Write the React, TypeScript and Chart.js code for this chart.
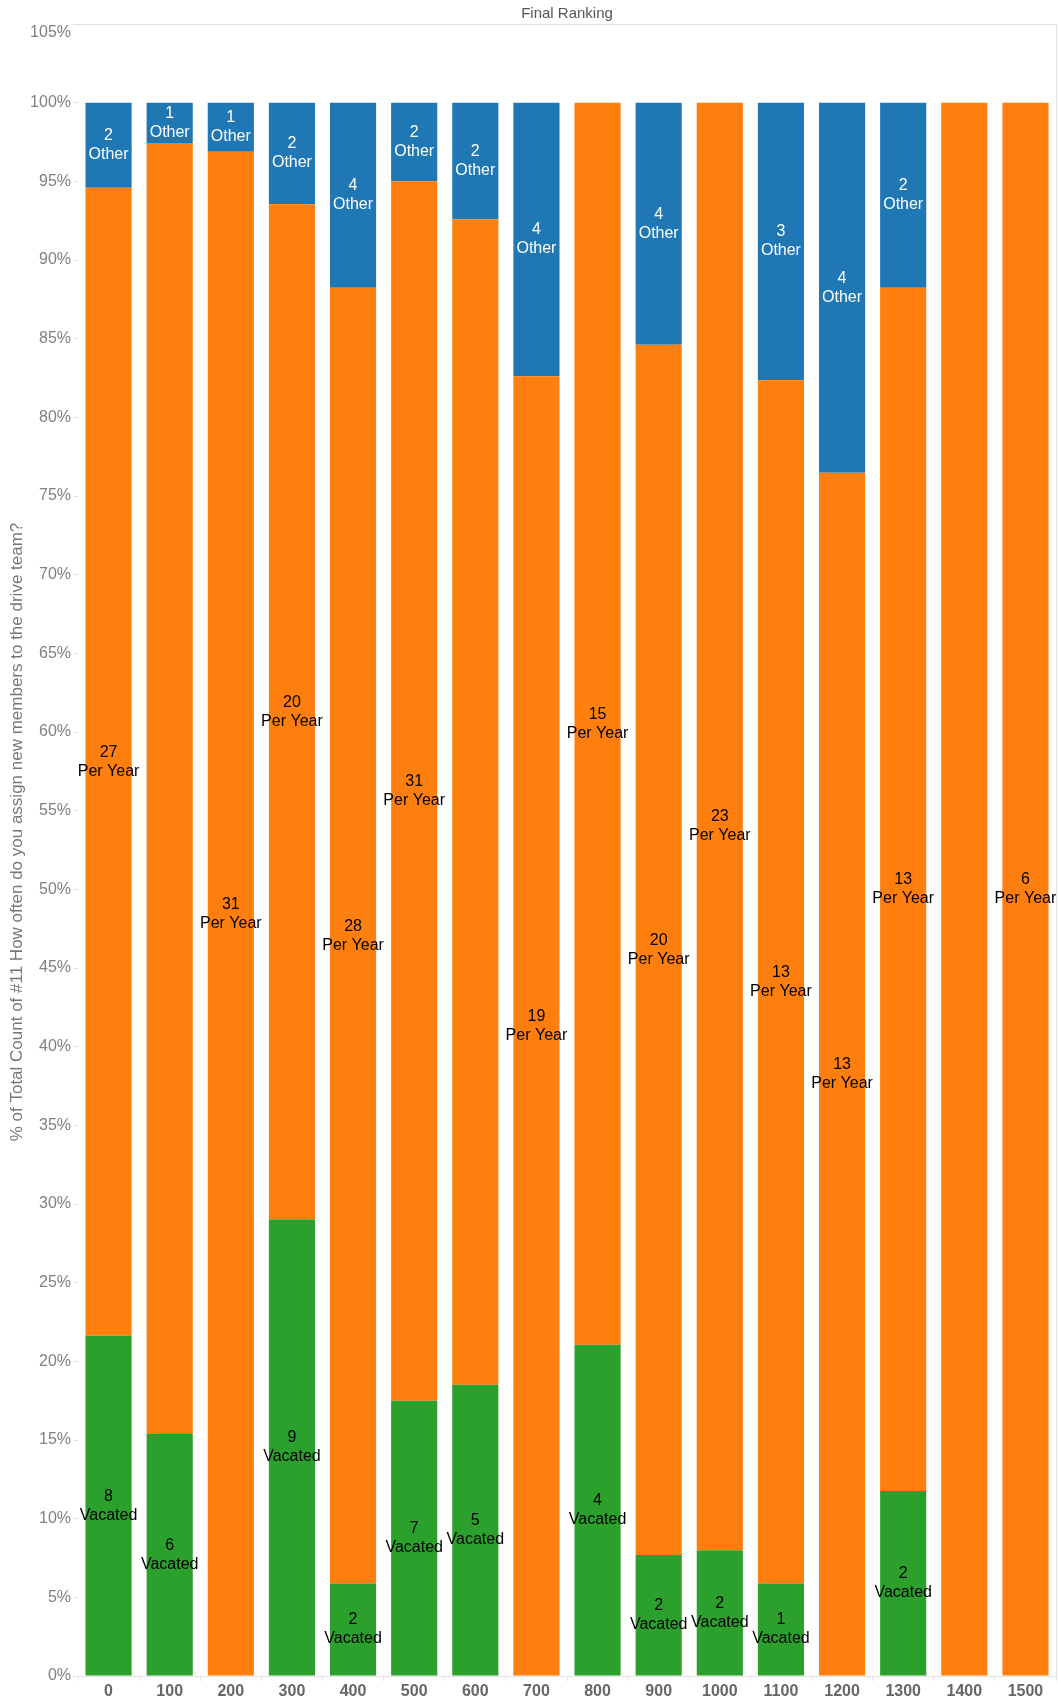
import React, { useEffect, useRef } from "react";
import { Chart, registerables } from "chart.js";

Chart.register(...registerables);

const categories = ["0", "100", "200", "300", "400", "500", "600", "700", "800", "900", "1000", "1100", "1200", "1300", "1400", "1500"];
const vacatedCounts = [8, 6, 0, 9, 2, 7, 5, 0, 4, 2, 2, 1, 0, 2, 0, 0];
const perYearCounts = [27, 32, 31, 20, 28, 31, 20, 19, 15, 20, 23, 13, 13, 13, 6, 6];
const otherCounts = [2, 1, 1, 2, 4, 2, 2, 4, 0, 4, 0, 3, 4, 2, 0, 0];
// labels that the reference hides (overlap) for Per Year
const perYearLabelShown = [true, false, true, true, true, true, false, true, true, true, true, true, true, true, false, true];
const yTicks = [0, 5, 10, 15, 20, 25, 30, 35, 40, 45, 50, 55, 60, 65, 70, 75, 80, 85, 90, 95, 100, 105];

const FONT = "'Liberation Sans', Arial, sans-serif";

export default function App() {
  const ref = useRef<HTMLCanvasElement | null>(null);
  useEffect(() => {
    const totals = categories.map((_, i) => vacatedCounts[i] + perYearCounts[i] + otherCounts[i]);
    const pct = (arr: number[]) => arr.map((v, i) => (v / totals[i]) * 100);
    const seriesCounts = [vacatedCounts, perYearCounts, otherCounts];
    const seriesNames = ["Vacated", "Per Year", "Other"];
    const textColors = ["#000000", "#000000", "#ffffff"];

    const labelPlugin = {
      id: "labels",
      afterDatasetsDraw(chart: any) {
        const ctx = chart.ctx;
        ctx.save();
        ctx.font = `16px ${FONT}`;
        ctx.textAlign = "center";
        ctx.textBaseline = "middle";
        chart.data.datasets.forEach((ds: any, di: number) => {
          const meta = chart.getDatasetMeta(di);
          meta.data.forEach((el: any, i: number) => {
            const c = seriesCounts[di][i];
            if (!c) return;
            if (di === 1 && !perYearLabelShown[i]) return;
            const cy = (el.y + el.base) / 2;
            ctx.fillStyle = textColors[di];
            ctx.fillText(String(c), el.x, cy - 9.5);
            ctx.fillText(seriesNames[di], el.x, cy + 9.5);
          });
        });
        ctx.restore();
      },
    };

    const framePlugin = {
      id: "frame",
      afterDraw(chart: any) {
        const ctx = chart.ctx;
        const a = chart.chartArea;
        ctx.save();
        ctx.strokeStyle = "#e2e2e2";
        ctx.lineWidth = 1;
        ctx.beginPath();
        ctx.moveTo(a.left, a.top + 0.5);
        ctx.lineTo(a.right + 0.5, a.top + 0.5);
        ctx.lineTo(a.right + 0.5, a.bottom);
        ctx.stroke();
        ctx.fillStyle = "#555555";
        ctx.font = `15px ${FONT}`;
        ctx.textAlign = "center";
        ctx.textBaseline = "middle";
        ctx.fillText("Final Ranking", 567, 14);
        ctx.fillStyle = "#808080";
        ctx.font = `16px ${FONT}`;
        ctx.textAlign = "right";
        ctx.fillText("105%", 71, 33);
        ctx.translate(17, 832);
        ctx.rotate(-Math.PI / 2);
        ctx.textAlign = "center";
        ctx.fillStyle = "#777777";
        ctx.font = `17px ${FONT}`;
        ctx.fillText("% of Total Count of #11 How often do you assign new members to the drive team?", 0, 0);
        ctx.restore();
      },
    };

    const chart = new Chart(ref.current!, {
      type: "bar",
      data: {
        labels: categories,
        datasets: [
          { label: "Vacated", data: pct(vacatedCounts), backgroundColor: "#2ca02c" },
          { label: "Per Year", data: pct(perYearCounts), backgroundColor: "#ff7f0e" },
          { label: "Other", data: pct(otherCounts), backgroundColor: "#1f77b4" },
        ],
      },
      options: {
        animation: false,
        responsive: false,
        maintainAspectRatio: false,
        layout: { padding: { top: 24, right: 2, left: 0, bottom: 0 } },
        datasets: { bar: { categoryPercentage: 1, barPercentage: 0.755 } },
        plugins: { legend: { display: false }, title: { display: false }, tooltip: { enabled: false } },
        scales: {
          x: {
            stacked: true,
            afterFit: (s: any) => { s.height = 25; },
            grid: { display: true, drawOnChartArea: false, drawTicks: true, tickLength: 5, offset: true, color: "#e2e2e2" },
            border: { display: true, color: "#e2e2e2" },
            ticks: { color: "#666666", font: { family: FONT, size: 16, weight: "bold" }, padding: 1, maxRotation: 0 },
          },
          y: {
            stacked: true,
            min: 0,
            max: 105,
            afterFit: (s: any) => { s.width = 78; },
            afterBuildTicks: (s: any) => { s.ticks = yTicks.map((v) => ({ value: v })); },
            grid: { display: true, drawOnChartArea: false, drawTicks: true, tickLength: 5, color: "#e2e2e2" },
            border: { display: false },
            ticks: { color: "#808080", font: { family: FONT, size: 16 }, padding: 2, callback: (v: any) => (v === 105 ? "" : `${v}%`) },
          },
        },
      },
      plugins: [labelPlugin, framePlugin],
    });
    return () => chart.destroy();
  }, []);
  return (
    <div style={{ position: "fixed", left: 0, top: 0, width: 1058, height: 1701, background: "#fff" }}>
      <canvas ref={ref} width={1058} height={1701} style={{ width: 1058, height: 1701 }} />
    </div>
  );
}
